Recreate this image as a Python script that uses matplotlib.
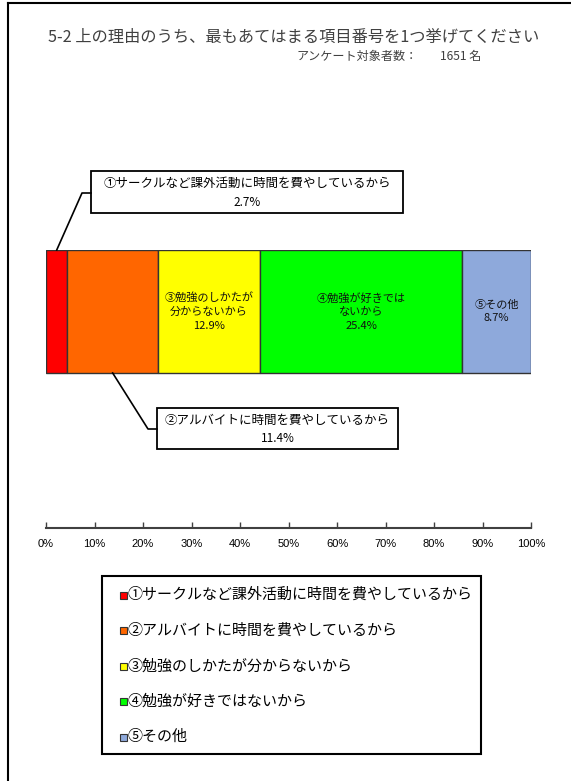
import numpy as np
import matplotlib
matplotlib.use('Agg')
import matplotlib.pyplot as plt
from matplotlib.patches import Rectangle

plt.rcParams['font.family'] = ['Noto Sans CJK JP', 'DejaVu Sans']

# data
labels = ['①サークルなど課外活動に時間を費やしているから',
          '②アルバイトに時間を費やしているから',
          '③勉強のしかたが分からないから',
          '④勉強が好きではないから',
          '⑤その他']
bar_labels = [None, None,
              '③勉強のしかたが\n分からないから',
              '④勉強が好きでは\nないから',
              '⑤その他']
values = [2.7, 11.4, 12.9, 25.4, 8.7]
colors = ['#FF0000', '#FF6600', '#FFFF00', '#00FF00', '#8EA9DB']
xticks = [0, 10, 20, 30, 40, 50, 60, 70, 80, 90, 100]
title = '5-2 上の理由のうち、最もあてはまる項目番号を1つ挙げてください'
respondents = 1651

W, H = 571, 781
fig = plt.figure(figsize=(W / 100, H / 100), dpi=100)

# bar is drawn normalised to 100 %
values = np.array(values)
shares = values / values.sum() * 100
lefts = np.concatenate([[0], np.cumsum(shares)[:-1]])

ax = fig.add_axes([46 / W, 1 - 528 / H, (531 - 46) / W, (528 - 250) / H])
ax.set_xlim(0, 100)
ax.set_ylim(0, 278)
bar_y, bar_h = 155, 123
ax.barh([bar_y] * len(shares), shares, height=bar_h, left=lefts, align='edge',
        color=colors, edgecolor='#333333', linewidth=1)
for s in ['top', 'left', 'right']:
    ax.spines[s].set_visible(False)
ax.spines['bottom'].set_color('#404040')
ax.spines['bottom'].set_linewidth(1.5)
ax.set_yticks([])
ax.set_xticks(xticks)
ax.set_xticklabels([f'{t}%' for t in xticks], family=['Liberation Sans', 'DejaVu Sans'])
ax.tick_params(axis='x', direction='in', length=4, width=1, color='#404040',
               pad=8, labelsize=8)

for i, txt in enumerate(bar_labels):
    if txt is None:
        continue
    ax.text(lefts[i] + shares[i] / 2, bar_y + bar_h / 2, f'{txt}\n{values[i]:.1f}%',
            ha='center', va='center', fontsize=8, linespacing=1.45, color='#111111')

# overlay in pixel coordinates (top-left origin)
ov = fig.add_axes([0, 0, 1, 1])
ov.set_xlim(0, W)
ov.set_ylim(H, 0)
ov.axis('off')
ov.patch.set_visible(False)


def to_px(x, y):
    d = ax.transData.transform((x, y))
    return ov.transData.inverted().transform(d)


# outer frame
ov.plot([8, 8], [3, H], color='black', lw=1.5)
ov.plot([8, W], [3, 3], color='black', lw=1.5)

ov.text(48, 37, title, fontsize=11.7, va='center', color='#404040')
ov.text(297, 56, 'アンケート対象者数：', fontsize=8.7, va='center', color='#404040')
ov.text(481, 56, f'{respondents} 名', fontsize=8.7, va='center', ha='right', color='#404040')

# callout for segment 1 (above the bar)
ax_, ay_ = to_px(lefts[0] + shares[0] / 2, bar_y + bar_h)
ov.plot([ax_, 82, 91], [ay_, 193, 193], color='black', lw=1.2)
ov.add_patch(Rectangle((91, 171), 312, 42, facecolor='white', edgecolor='black', lw=1.3))
ov.text(247, 183, labels[0], ha='center', va='center', fontsize=9)
ov.text(247, 202, f'{values[0]:.1f}%', ha='center', va='center', fontsize=8.5)

# callout for segment 2 (below the bar)
bx_, by_ = to_px(lefts[1] + shares[1] / 2, bar_y)
ov.plot([bx_, 148, 157], [by_, 429, 429], color='black', lw=1.2)
ov.add_patch(Rectangle((157, 408), 241, 41, facecolor='white', edgecolor='black', lw=1.3))
ov.text(277.5, 420, labels[1], ha='center', va='center', fontsize=9)
ov.text(277.5, 439, f'{values[1]:.1f}%', ha='center', va='center', fontsize=8.5)

# legend box
ov.add_patch(Rectangle((102, 576), 379, 178, facecolor='white', edgecolor='black', lw=1.5))
for i, (lab, col) in enumerate(zip(labels, colors)):
    yy = 595 + 35.5 * i
    ov.add_patch(Rectangle((120, yy - 3.5), 7, 7, facecolor=col, edgecolor='#333333', lw=0.8))
    ov.text(128, yy, lab, va='center', ha='left', fontsize=10.8)

fig.savefig('out.png', dpi=100)
